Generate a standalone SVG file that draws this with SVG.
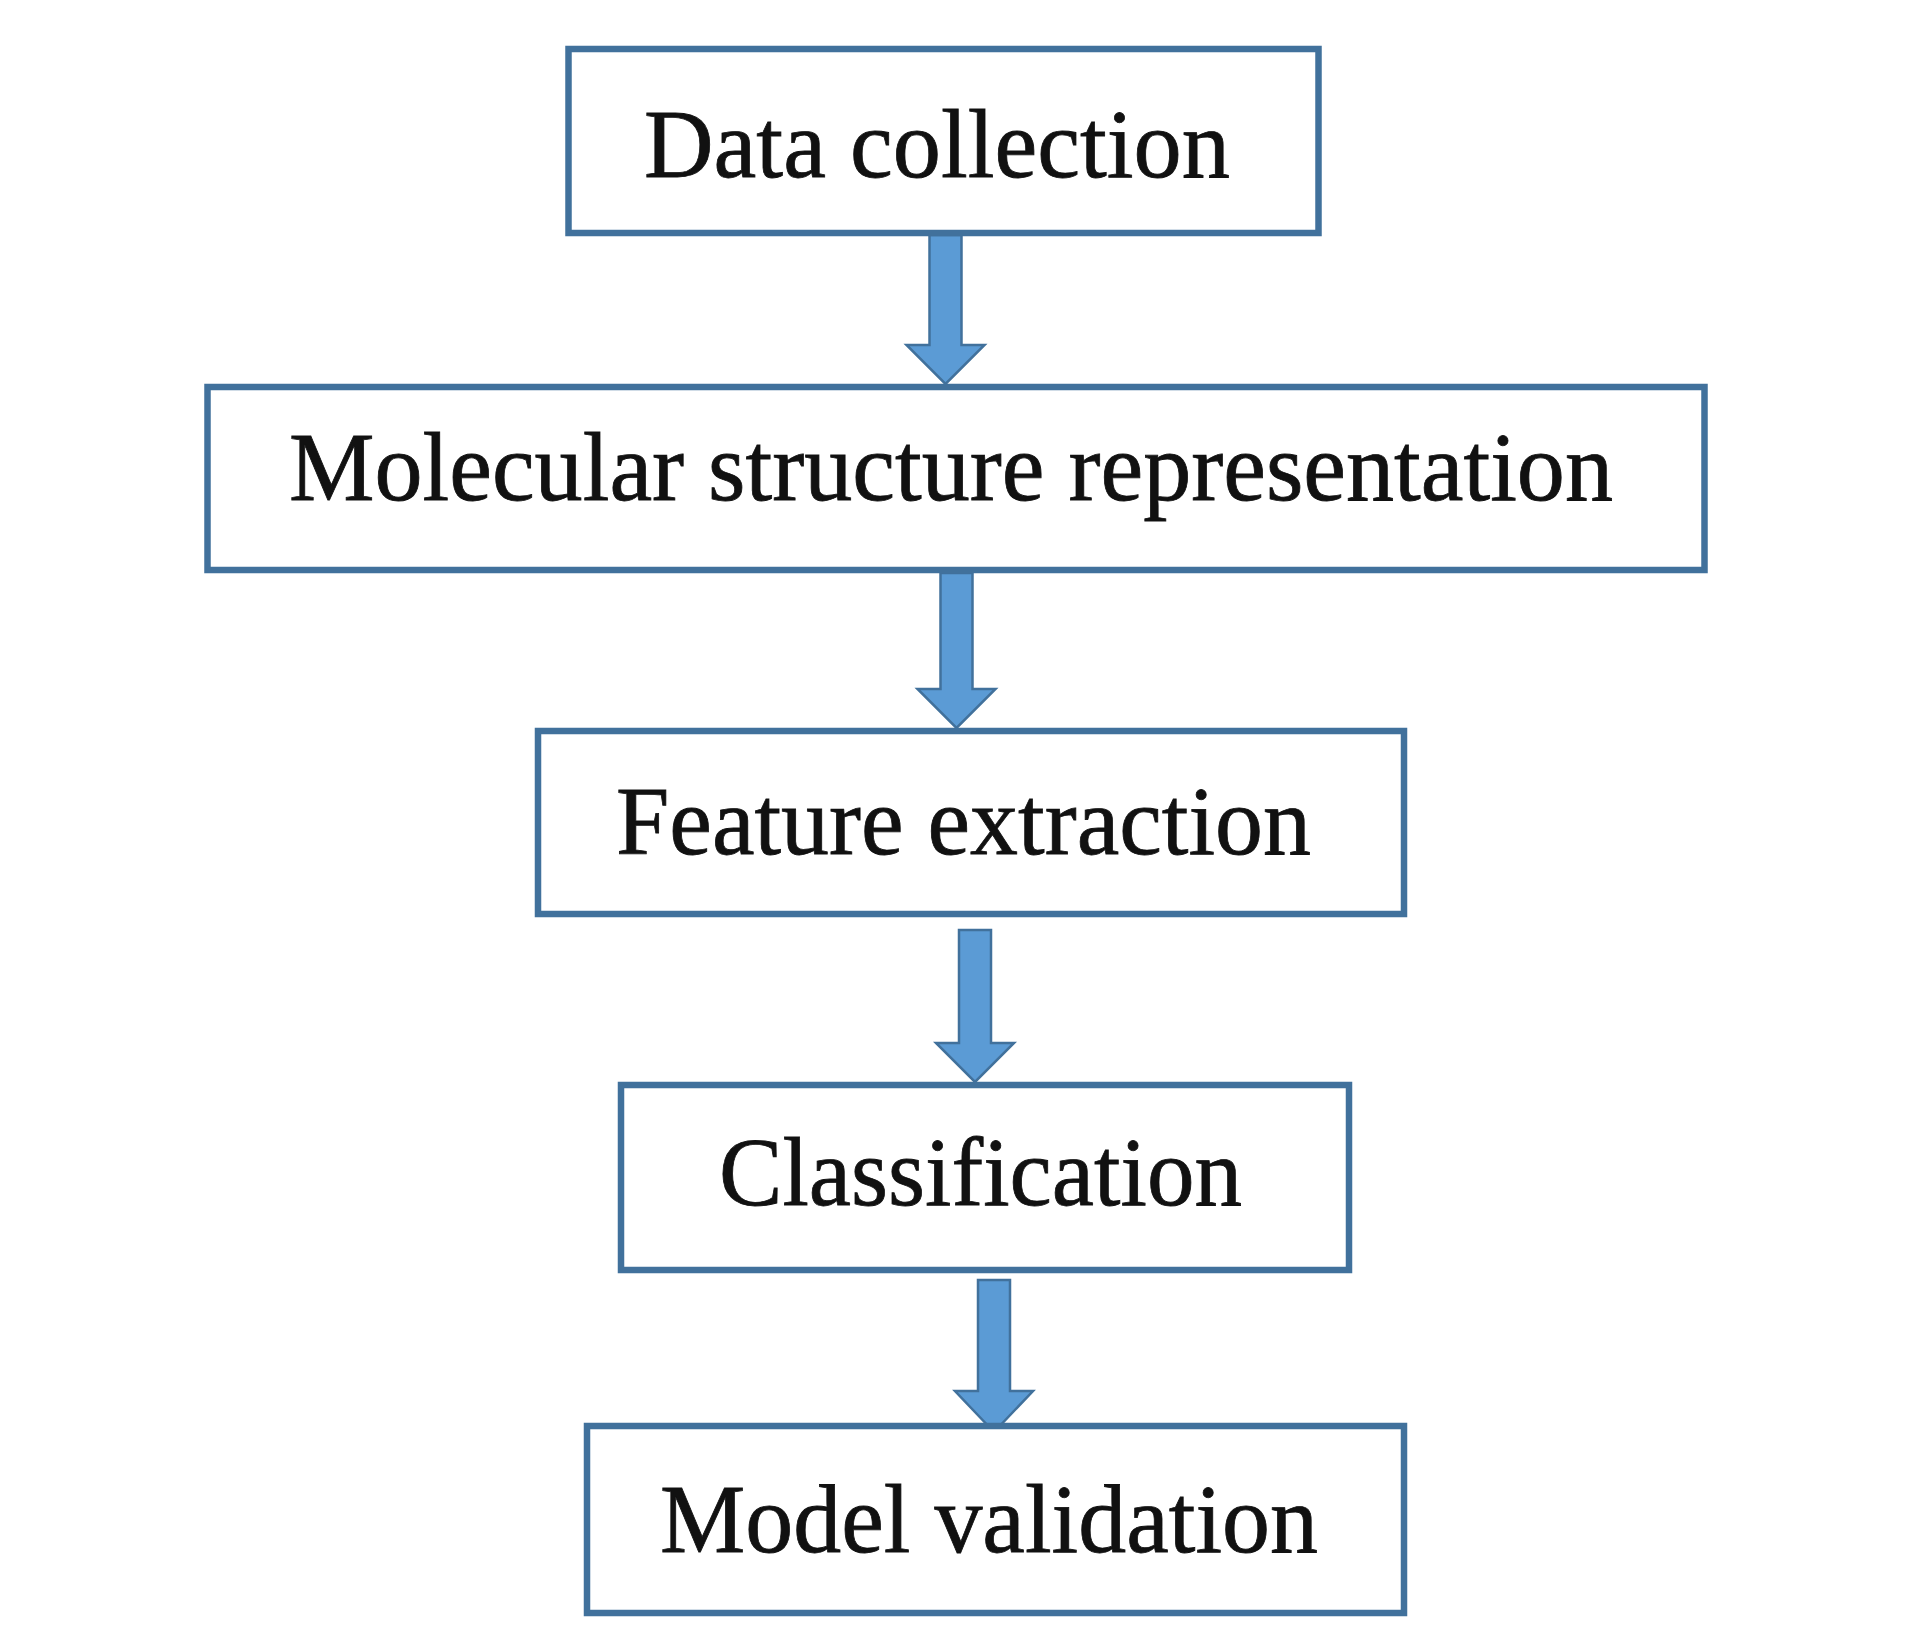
<svg xmlns="http://www.w3.org/2000/svg" width="1913" height="1629" viewBox="0 0 1913 1629">
<style>
.box{fill:#ffffff;stroke:#41719C;stroke-width:6.5}
.lbl{font-family:"Liberation Serif","Times New Roman",serif;font-size:98px;fill:#111111;stroke:#111111;stroke-width:0.8;text-anchor:middle}
.arr{fill:#5B9BD5;stroke:#41719C;stroke-width:2.5}
</style>
<rect width="1913" height="1629" fill="#ffffff"/>
<g id="connectors">
<path class="arr" d="M929.5,235 H961.5 V345 H984.5 L945.5,384 L906.5,345 H929.5 Z"/>
<path class="arr" d="M940.5,573 H972.5 V689 H995.5 L956.5,728 L917.5,689 H940.5 Z"/>
<path class="arr" d="M959,930 H991 V1043 H1014 L975,1082 L936,1043 H959 Z"/>
<path class="arr" d="M978,1280 H1010 V1391 H1033 L994,1432 L955,1391 H978 Z"/>
</g>
<g id="node-data-collection">
<rect class="box" x="568.5" y="49" width="750" height="184"/>
<text class="lbl" x="937" y="177" textLength="586" lengthAdjust="spacingAndGlyphs">Data collection</text>
</g>
<g id="node-molecular-structure">
<rect class="box" x="207.5" y="387" width="1497" height="183"/>
<text class="lbl" x="951" y="500" textLength="1324" lengthAdjust="spacingAndGlyphs">Molecular structure representation</text>
</g>
<g id="node-feature-extraction">
<rect class="box" x="538" y="731" width="866" height="183"/>
<text class="lbl" x="963.5" y="854" textLength="695" lengthAdjust="spacingAndGlyphs">Feature extraction</text>
</g>
<g id="node-classification">
<rect class="box" x="621" y="1085" width="728" height="185"/>
<text class="lbl" x="980.5" y="1205" textLength="523" lengthAdjust="spacingAndGlyphs">Classification</text>
</g>
<g id="node-model-validation">
<rect class="box" x="587" y="1426" width="817" height="187"/>
<text class="lbl" x="989" y="1552" textLength="658" lengthAdjust="spacingAndGlyphs">Model validation</text>
</g>
</svg>
